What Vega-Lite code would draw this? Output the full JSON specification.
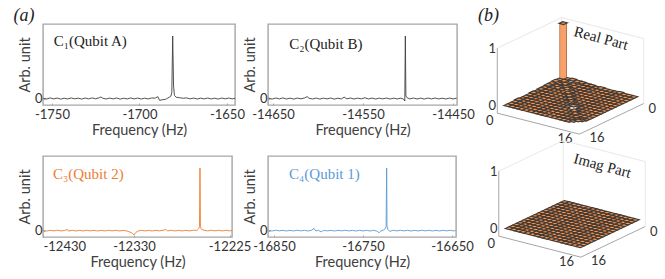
{"$schema":"https://vega.github.io/schema/vega-lite/v6.json","background":"white","padding":{"left":12,"top":6,"right":0,"bottom":0},"config":{"view":{"stroke":"#a6a6a6","strokeWidth":1.4},"axis":{"grid":false,"domain":false,"labelFont":"Lato","labelFontSize":13,"labelColor":"#333333","titleFont":"Lato","titleFontSize":14.5,"titleFontWeight":"normal","titleColor":"#404040","tickColor":"#a6a6a6","tickSize":-2,"labelPadding":5,"labelAngle":0}},"columns":3,"align":"each","bounds":"flush","spacing":{"row":51,"column":33},
"datasets":{
"a":[{"f":-1755,"y":0.004},{"f":-1753,"y":-0.008},{"f":-1751,"y":0.01},{"f":-1749,"y":-0.006},{"f":-1747,"y":0.007},{"f":-1745,"y":-0.01},{"f":-1743,"y":0.005},{"f":-1741,"y":-0.007},{"f":-1739,"y":0.009},{"f":-1737,"y":-0.005},{"f":-1735,"y":0.006},{"f":-1733,"y":-0.009},{"f":-1731,"y":0.008},{"f":-1729,"y":-0.006},{"f":-1727,"y":0.01},{"f":-1725,"y":-0.005},{"f":-1723,"y":0.012},{"f":-1722,"y":0.025},{"f":-1721,"y":0.005},{"f":-1719,"y":-0.008},{"f":-1717,"y":0.007},{"f":-1715,"y":-0.006},{"f":-1713,"y":0.008},{"f":-1711,"y":-0.01},{"f":-1709,"y":0.005},{"f":-1707,"y":-0.007},{"f":-1705,"y":0.009},{"f":-1703,"y":-0.006},{"f":-1701,"y":0.007},{"f":-1699,"y":-0.008},{"f":-1697,"y":0.006},{"f":-1695,"y":-0.007},{"f":-1693,"y":0.009},{"f":-1691,"y":0.006},{"f":-1689.5,"y":0.03},{"f":-1688.5,"y":-0.03},{"f":-1687,"y":-0.02},{"f":-1685,"y":-0.012},{"f":-1684,"y":0.005},{"f":-1683,"y":0.02},{"f":-1682,"y":0.04},{"f":-1681.5,"y":0.1},{"f":-1681,"y":1},{"f":-1680.5,"y":0.2},{"f":-1680,"y":0.05},{"f":-1679,"y":0.02},{"f":-1677,"y":0.012},{"f":-1675,"y":0.004},{"f":-1673,"y":0.009},{"f":-1671,"y":-0.005},{"f":-1669,"y":0.007},{"f":-1667,"y":-0.008},{"f":-1665,"y":0.006},{"f":-1663,"y":-0.006},{"f":-1661,"y":0.008},{"f":-1659,"y":-0.007},{"f":-1657,"y":0.005},{"f":-1655,"y":-0.009},{"f":-1653,"y":0.007},{"f":-1651,"y":-0.005},{"f":-1649,"y":0.008},{"f":-1647,"y":-0.006},{"f":-1645.4,"y":0.004}],
"b":[{"f":-14655,"y":0.006},{"f":-14651,"y":-0.009},{"f":-14647,"y":0.008},{"f":-14643,"y":-0.006},{"f":-14639,"y":0.01},{"f":-14635,"y":-0.008},{"f":-14631,"y":0.006},{"f":-14627,"y":-0.01},{"f":-14623,"y":0.007},{"f":-14619,"y":-0.005},{"f":-14615,"y":0.009},{"f":-14612,"y":0.03},{"f":-14610,"y":0.004},{"f":-14606,"y":-0.008},{"f":-14602,"y":0.007},{"f":-14598,"y":-0.009},{"f":-14594,"y":0.006},{"f":-14590,"y":-0.006},{"f":-14586,"y":0.008},{"f":-14582,"y":-0.01},{"f":-14578,"y":0.005},{"f":-14574,"y":-0.007},{"f":-14571,"y":0.022},{"f":-14568,"y":-0.005},{"f":-14564,"y":0.008},{"f":-14560,"y":-0.008},{"f":-14556,"y":0.006},{"f":-14552,"y":-0.006},{"f":-14548,"y":0.012},{"f":-14544,"y":-0.007},{"f":-14540,"y":0.007},{"f":-14536,"y":-0.009},{"f":-14532,"y":0.006},{"f":-14528,"y":-0.006},{"f":-14524,"y":0.008},{"f":-14520,"y":-0.008},{"f":-14516,"y":0.005},{"f":-14512,"y":-0.007},{"f":-14508,"y":0.006},{"f":-14505,"y":-0.01},{"f":-14503.6,"y":-0.04},{"f":-14503,"y":1},{"f":-14502.4,"y":0.04},{"f":-14501,"y":0.012},{"f":-14498,"y":-0.006},{"f":-14494,"y":0.008},{"f":-14490,"y":-0.008},{"f":-14486,"y":0.006},{"f":-14482,"y":-0.009},{"f":-14478,"y":0.007},{"f":-14474,"y":-0.006},{"f":-14470,"y":0.008},{"f":-14466,"y":-0.007},{"f":-14462,"y":0.005},{"f":-14458,"y":-0.008},{"f":-14454,"y":0.007},{"f":-14450,"y":-0.006},{"f":-14446,"y":0.005}],
"c":[{"f":-12430,"y":0.003},{"f":-12426,"y":-0.006},{"f":-12422,"y":0.005},{"f":-12418,"y":-0.004},{"f":-12414,"y":0.006},{"f":-12410,"y":-0.005},{"f":-12406,"y":0.004},{"f":-12403,"y":0.018},{"f":-12402,"y":-0.008},{"f":-12398,"y":0.005},{"f":-12394,"y":-0.006},{"f":-12390,"y":0.004},{"f":-12386,"y":-0.005},{"f":-12382,"y":0.006},{"f":-12378,"y":-0.004},{"f":-12374,"y":0.005},{"f":-12370,"y":-0.006},{"f":-12366,"y":0.004},{"f":-12362,"y":-0.005},{"f":-12358,"y":0.006},{"f":-12354,"y":-0.004},{"f":-12350,"y":0.005},{"f":-12346,"y":-0.005},{"f":-12342,"y":0.004},{"f":-12338,"y":-0.006},{"f":-12335,"y":-0.02},{"f":-12332,"y":-0.04},{"f":-12330,"y":-0.07},{"f":-12328,"y":-0.03},{"f":-12326,"y":-0.01},{"f":-12322,"y":0.005},{"f":-12318,"y":-0.005},{"f":-12314,"y":0.004},{"f":-12310,"y":-0.006},{"f":-12306,"y":0.005},{"f":-12302,"y":-0.004},{"f":-12298,"y":0.006},{"f":-12295,"y":0.016},{"f":-12293,"y":-0.005},{"f":-12289,"y":0.005},{"f":-12285,"y":-0.006},{"f":-12281,"y":0.004},{"f":-12277,"y":-0.005},{"f":-12273,"y":0.005},{"f":-12269,"y":-0.004},{"f":-12265,"y":0.006},{"f":-12261,"y":0.003},{"f":-12259,"y":0.03},{"f":-12258,"y":0.06},{"f":-12257.5,"y":1},{"f":-12257,"y":0.06},{"f":-12256,"y":0.02},{"f":-12253,"y":0.006},{"f":-12249,"y":-0.005},{"f":-12245,"y":0.006},{"f":-12241,"y":-0.004},{"f":-12237,"y":0.005},{"f":-12233,"y":-0.005},{"f":-12229,"y":0.004},{"f":-12225,"y":-0.004},{"f":-12222.3,"y":0.003}],
"d":[{"f":-16856,"y":0.004},{"f":-16852,"y":-0.006},{"f":-16848,"y":0.006},{"f":-16844,"y":-0.004},{"f":-16840,"y":0.005},{"f":-16836,"y":-0.006},{"f":-16832,"y":0.004},{"f":-16828,"y":-0.005},{"f":-16824,"y":0.006},{"f":-16820,"y":-0.004},{"f":-16816,"y":0.005},{"f":-16812,"y":-0.006},{"f":-16808,"y":0.006},{"f":-16805,"y":0.035},{"f":-16803,"y":-0.005},{"f":-16800,"y":0.004},{"f":-16797,"y":-0.02},{"f":-16794,"y":0.005},{"f":-16790,"y":-0.005},{"f":-16786,"y":0.004},{"f":-16782,"y":-0.006},{"f":-16778,"y":0.005},{"f":-16774,"y":-0.004},{"f":-16770,"y":0.006},{"f":-16766,"y":-0.005},{"f":-16762,"y":0.004},{"f":-16758,"y":-0.006},{"f":-16754,"y":0.005},{"f":-16750,"y":-0.005},{"f":-16746,"y":0.004},{"f":-16742,"y":-0.006},{"f":-16738,"y":0.005},{"f":-16734,"y":-0.01},{"f":-16732,"y":-0.035},{"f":-16730,"y":-0.005},{"f":-16727,"y":0.01},{"f":-16725,"y":0.03},{"f":-16724,"y":0.06},{"f":-16723.4,"y":1},{"f":-16723,"y":0.07},{"f":-16722,"y":0.02},{"f":-16720,"y":-0.012},{"f":-16716,"y":0.005},{"f":-16712,"y":-0.005},{"f":-16708,"y":0.006},{"f":-16704,"y":-0.004},{"f":-16700,"y":0.005},{"f":-16696,"y":-0.006},{"f":-16692,"y":0.004},{"f":-16688,"y":-0.005},{"f":-16684,"y":0.006},{"f":-16680,"y":-0.004},{"f":-16676,"y":0.005},{"f":-16672,"y":-0.006},{"f":-16668,"y":0.004},{"f":-16664,"y":-0.005},{"f":-16660,"y":0.005},{"f":-16656,"y":-0.004},{"f":-16652,"y":0.005},{"f":-16648,"y":-0.005},{"f":-16646,"y":0.003}],
"frame":[{"k":"w","a1":-1,"b1":16.5,"z1":1,"a2":-1,"b2":-1,"z2":1},{"k":"w","a1":-1,"b1":-1,"z1":1,"a2":16.5,"b2":-1,"z2":1},{"k":"w","a1":-1,"b1":-1,"z1":-0.14,"a2":-1,"b2":-1,"z2":1},{"k":"w","a1":16.5,"b1":-1,"z1":-0.14,"a2":16.5,"b2":-1,"z2":1},{"k":"f","a1":-1,"b1":16.5,"z1":-0.14,"a2":-1,"b2":16.5,"z2":1},{"k":"f","a1":-1,"b1":16.5,"z1":-0.14,"a2":16.5,"b2":16.5,"z2":-0.14},{"k":"f","a1":16.5,"b1":16.5,"z1":-0.14,"a2":16.5,"b2":-1,"z2":-0.14}],
"labels3d":[{"t":"1","a":-1.6,"b":17.1,"z":1},{"t":"0","a":-1.6,"b":17.1,"z":0},{"t":"0","a":2.6,"b":23.1,"z":0},{"t":"16","a":18.25,"b":22.6,"z":0},{"t":"0","a":21.6,"b":3.2,"z":0},{"t":"16","a":22.4,"b":19.2,"z":0}],
"cells":[
{"a":0,"b":0,"re":0.98,"im":0},{"a":0,"b":1,"re":0.02,"im":0},{"a":0,"b":2,"re":0.03,"im":0},{"a":0,"b":3,"re":0.02,"im":0},{"a":0,"b":4,"re":0.02,"im":0},{"a":0,"b":5,"re":0.01,"im":0},{"a":0,"b":6,"re":0.01,"im":0},{"a":0,"b":7,"re":0,"im":0},{"a":0,"b":8,"re":0.01,"im":0},{"a":0,"b":9,"re":0,"im":0},{"a":0,"b":10,"re":0,"im":0},{"a":0,"b":11,"re":0,"im":0},{"a":0,"b":12,"re":0.01,"im":0},{"a":0,"b":13,"re":0,"im":0},{"a":0,"b":14,"re":0,"im":0},{"a":0,"b":15,"re":0,"im":0},
{"a":1,"b":0,"re":0.02,"im":0},{"a":1,"b":1,"re":0.02,"im":0},{"a":1,"b":2,"re":0,"im":0},{"a":1,"b":3,"re":0,"im":0},{"a":1,"b":4,"re":0,"im":0},{"a":1,"b":5,"re":0,"im":0},{"a":1,"b":6,"re":0,"im":0},{"a":1,"b":7,"re":0,"im":0},{"a":1,"b":8,"re":0,"im":0},{"a":1,"b":9,"re":0,"im":0},{"a":1,"b":10,"re":0,"im":0},{"a":1,"b":11,"re":0,"im":0},{"a":1,"b":12,"re":0,"im":0},{"a":1,"b":13,"re":0,"im":0},{"a":1,"b":14,"re":0,"im":0},{"a":1,"b":15,"re":0,"im":0},
{"a":2,"b":0,"re":0.03,"im":0},{"a":2,"b":1,"re":0,"im":0},{"a":2,"b":2,"re":0.02,"im":0},{"a":2,"b":3,"re":0,"im":0},{"a":2,"b":4,"re":0.01,"im":0},{"a":2,"b":5,"re":0,"im":0},{"a":2,"b":6,"re":0,"im":0},{"a":2,"b":7,"re":0,"im":0},{"a":2,"b":8,"re":0,"im":0},{"a":2,"b":9,"re":0,"im":0},{"a":2,"b":10,"re":0,"im":0},{"a":2,"b":11,"re":0,"im":0},{"a":2,"b":12,"re":0,"im":0},{"a":2,"b":13,"re":0,"im":0},{"a":2,"b":14,"re":0,"im":0},{"a":2,"b":15,"re":0,"im":0},
{"a":3,"b":0,"re":0.02,"im":0},{"a":3,"b":1,"re":0,"im":0},{"a":3,"b":2,"re":0,"im":0},{"a":3,"b":3,"re":0.02,"im":0},{"a":3,"b":4,"re":0,"im":0},{"a":3,"b":5,"re":0,"im":0},{"a":3,"b":6,"re":0,"im":0},{"a":3,"b":7,"re":0,"im":0},{"a":3,"b":8,"re":0,"im":0},{"a":3,"b":9,"re":0,"im":0},{"a":3,"b":10,"re":0,"im":0},{"a":3,"b":11,"re":0,"im":0},{"a":3,"b":12,"re":0,"im":0},{"a":3,"b":13,"re":0,"im":0},{"a":3,"b":14,"re":0,"im":0},{"a":3,"b":15,"re":0,"im":0},
{"a":4,"b":0,"re":0.02,"im":0},{"a":4,"b":1,"re":0,"im":0},{"a":4,"b":2,"re":0.01,"im":0},{"a":4,"b":3,"re":0,"im":0},{"a":4,"b":4,"re":0.04,"im":0},{"a":4,"b":5,"re":0.01,"im":0},{"a":4,"b":6,"re":0,"im":0},{"a":4,"b":7,"re":0,"im":0},{"a":4,"b":8,"re":0,"im":0},{"a":4,"b":9,"re":0,"im":0},{"a":4,"b":10,"re":0,"im":0},{"a":4,"b":11,"re":0,"im":0},{"a":4,"b":12,"re":0,"im":0},{"a":4,"b":13,"re":0,"im":0},{"a":4,"b":14,"re":0,"im":0},{"a":4,"b":15,"re":0,"im":0},
{"a":5,"b":0,"re":0.01,"im":0},{"a":5,"b":1,"re":0,"im":0},{"a":5,"b":2,"re":0,"im":0},{"a":5,"b":3,"re":0,"im":0},{"a":5,"b":4,"re":0.01,"im":0},{"a":5,"b":5,"re":0.02,"im":0},{"a":5,"b":6,"re":0,"im":0},{"a":5,"b":7,"re":0,"im":0},{"a":5,"b":8,"re":0,"im":0},{"a":5,"b":9,"re":0,"im":0},{"a":5,"b":10,"re":0,"im":0},{"a":5,"b":11,"re":0,"im":0},{"a":5,"b":12,"re":0,"im":0},{"a":5,"b":13,"re":0,"im":0},{"a":5,"b":14,"re":0,"im":0},{"a":5,"b":15,"re":0,"im":0},
{"a":6,"b":0,"re":0.01,"im":0},{"a":6,"b":1,"re":0,"im":0},{"a":6,"b":2,"re":0,"im":0},{"a":6,"b":3,"re":0,"im":0},{"a":6,"b":4,"re":0,"im":0},{"a":6,"b":5,"re":0,"im":0},{"a":6,"b":6,"re":0.02,"im":0},{"a":6,"b":7,"re":0,"im":0},{"a":6,"b":8,"re":0,"im":0},{"a":6,"b":9,"re":0,"im":0},{"a":6,"b":10,"re":0,"im":0},{"a":6,"b":11,"re":0,"im":0},{"a":6,"b":12,"re":0,"im":0},{"a":6,"b":13,"re":0,"im":0},{"a":6,"b":14,"re":0,"im":0},{"a":6,"b":15,"re":0,"im":0},
{"a":7,"b":0,"re":0,"im":0},{"a":7,"b":1,"re":0,"im":0},{"a":7,"b":2,"re":0,"im":0},{"a":7,"b":3,"re":0,"im":0},{"a":7,"b":4,"re":0,"im":0},{"a":7,"b":5,"re":0,"im":0},{"a":7,"b":6,"re":0,"im":0},{"a":7,"b":7,"re":0.02,"im":0},{"a":7,"b":8,"re":0,"im":0},{"a":7,"b":9,"re":0,"im":0},{"a":7,"b":10,"re":0,"im":0},{"a":7,"b":11,"re":0,"im":0},{"a":7,"b":12,"re":0,"im":0},{"a":7,"b":13,"re":0,"im":0},{"a":7,"b":14,"re":0,"im":0},{"a":7,"b":15,"re":0,"im":0},
{"a":8,"b":0,"re":0.01,"im":0},{"a":8,"b":1,"re":0,"im":0},{"a":8,"b":2,"re":0,"im":0},{"a":8,"b":3,"re":0,"im":0},{"a":8,"b":4,"re":0,"im":0},{"a":8,"b":5,"re":0,"im":0},{"a":8,"b":6,"re":0,"im":0},{"a":8,"b":7,"re":0,"im":0},{"a":8,"b":8,"re":0.03,"im":0},{"a":8,"b":9,"re":0,"im":0},{"a":8,"b":10,"re":0,"im":0},{"a":8,"b":11,"re":0,"im":0},{"a":8,"b":12,"re":0,"im":0},{"a":8,"b":13,"re":0,"im":0},{"a":8,"b":14,"re":0,"im":0},{"a":8,"b":15,"re":0,"im":0},
{"a":9,"b":0,"re":0,"im":0},{"a":9,"b":1,"re":0,"im":0},{"a":9,"b":2,"re":0,"im":0},{"a":9,"b":3,"re":0,"im":0},{"a":9,"b":4,"re":0,"im":0},{"a":9,"b":5,"re":0,"im":0},{"a":9,"b":6,"re":0,"im":0},{"a":9,"b":7,"re":0,"im":0},{"a":9,"b":8,"re":0,"im":0},{"a":9,"b":9,"re":0.02,"im":0},{"a":9,"b":10,"re":0.02,"im":0},{"a":9,"b":11,"re":0,"im":0},{"a":9,"b":12,"re":0,"im":0},{"a":9,"b":13,"re":0,"im":0},{"a":9,"b":14,"re":0,"im":0},{"a":9,"b":15,"re":0,"im":0},
{"a":10,"b":0,"re":0,"im":0},{"a":10,"b":1,"re":0,"im":0},{"a":10,"b":2,"re":0,"im":0},{"a":10,"b":3,"re":0,"im":0},{"a":10,"b":4,"re":0,"im":0},{"a":10,"b":5,"re":0,"im":0},{"a":10,"b":6,"re":0,"im":0},{"a":10,"b":7,"re":0,"im":0},{"a":10,"b":8,"re":0,"im":0},{"a":10,"b":9,"re":0.02,"im":0},{"a":10,"b":10,"re":0.05,"im":0},{"a":10,"b":11,"re":0,"im":0},{"a":10,"b":12,"re":0,"im":0},{"a":10,"b":13,"re":0,"im":0},{"a":10,"b":14,"re":0,"im":0},{"a":10,"b":15,"re":0,"im":0},
{"a":11,"b":0,"re":0,"im":0},{"a":11,"b":1,"re":0,"im":0},{"a":11,"b":2,"re":0,"im":0},{"a":11,"b":3,"re":0,"im":0},{"a":11,"b":4,"re":0,"im":0},{"a":11,"b":5,"re":0,"im":0},{"a":11,"b":6,"re":0,"im":0},{"a":11,"b":7,"re":0,"im":0},{"a":11,"b":8,"re":0,"im":0},{"a":11,"b":9,"re":0,"im":0},{"a":11,"b":10,"re":0,"im":0},{"a":11,"b":11,"re":0.02,"im":0},{"a":11,"b":12,"re":0,"im":0},{"a":11,"b":13,"re":0,"im":0},{"a":11,"b":14,"re":0,"im":0},{"a":11,"b":15,"re":0,"im":0},
{"a":12,"b":0,"re":0.01,"im":0},{"a":12,"b":1,"re":0,"im":0},{"a":12,"b":2,"re":0,"im":0},{"a":12,"b":3,"re":0,"im":0},{"a":12,"b":4,"re":0,"im":0},{"a":12,"b":5,"re":0,"im":0},{"a":12,"b":6,"re":0,"im":0},{"a":12,"b":7,"re":0,"im":0},{"a":12,"b":8,"re":0,"im":0},{"a":12,"b":9,"re":0,"im":0},{"a":12,"b":10,"re":0,"im":0},{"a":12,"b":11,"re":0,"im":0},{"a":12,"b":12,"re":0.02,"im":0},{"a":12,"b":13,"re":0,"im":0},{"a":12,"b":14,"re":0,"im":0},{"a":12,"b":15,"re":0,"im":0},
{"a":13,"b":0,"re":0,"im":0},{"a":13,"b":1,"re":0,"im":0},{"a":13,"b":2,"re":0,"im":0},{"a":13,"b":3,"re":0,"im":0},{"a":13,"b":4,"re":0,"im":0},{"a":13,"b":5,"re":0,"im":0},{"a":13,"b":6,"re":0,"im":0},{"a":13,"b":7,"re":0,"im":0},{"a":13,"b":8,"re":0,"im":0},{"a":13,"b":9,"re":0,"im":0},{"a":13,"b":10,"re":0,"im":0},{"a":13,"b":11,"re":0,"im":0},{"a":13,"b":12,"re":0,"im":0},{"a":13,"b":13,"re":0.01,"im":0},{"a":13,"b":14,"re":0,"im":0},{"a":13,"b":15,"re":0,"im":0},
{"a":14,"b":0,"re":0,"im":0},{"a":14,"b":1,"re":0,"im":0},{"a":14,"b":2,"re":0,"im":0},{"a":14,"b":3,"re":0,"im":0},{"a":14,"b":4,"re":0,"im":0},{"a":14,"b":5,"re":0,"im":0},{"a":14,"b":6,"re":0,"im":0},{"a":14,"b":7,"re":0,"im":0},{"a":14,"b":8,"re":0,"im":0},{"a":14,"b":9,"re":0,"im":0},{"a":14,"b":10,"re":0,"im":0},{"a":14,"b":11,"re":0,"im":0},{"a":14,"b":12,"re":0,"im":0},{"a":14,"b":13,"re":0,"im":0},{"a":14,"b":14,"re":0.02,"im":0},{"a":14,"b":15,"re":0.02,"im":0},
{"a":15,"b":0,"re":0,"im":0},{"a":15,"b":1,"re":0,"im":0},{"a":15,"b":2,"re":0,"im":0},{"a":15,"b":3,"re":0,"im":0},{"a":15,"b":4,"re":0,"im":0},{"a":15,"b":5,"re":0,"im":0},{"a":15,"b":6,"re":0,"im":0},{"a":15,"b":7,"re":0,"im":0},{"a":15,"b":8,"re":0,"im":0},{"a":15,"b":9,"re":0,"im":0},{"a":15,"b":10,"re":0,"im":0},{"a":15,"b":11,"re":0,"im":0},{"a":15,"b":12,"re":0,"im":0},{"a":15,"b":13,"re":0,"im":0},{"a":15,"b":14,"re":0.02,"im":0},{"a":15,"b":15,"re":0.05,"im":0}
]},
"concat":[
{"width":192,"height":81,"layer":[
{"data":{"name":"a"},"mark":{"type":"line","stroke":"#404040","strokeWidth":0.9,"clip":true},"encoding":{"x":{"field":"f","type":"quantitative","scale":{"domain":[-1755.1,-1645.4],"nice":false,"zero":false},"axis":{"values":[-1750,-1700,-1650],"labelExpr":"toString(datum.value)","title":"Frequency (Hz)","titlePadding":2}},"y":{"field":"y","type":"quantitative","scale":{"domain":[-0.104,1.192],"nice":false,"zero":false},"axis":{"values":[0],"format":"d","labelPadding":3,"title":"Arb. unit","titlePadding":2}}}},
{"mark":{"type":"text","align":"left","font":"Liberation Serif","fontSize":15,"color":"#222222"},"data":{"values":[{"t":"C₁(Qubit A)","f":-1749,"y":0.92}]},"encoding":{"x":{"field":"f","type":"quantitative"},"y":{"field":"y","type":"quantitative"},"text":{"field":"t"}}},
{"mark":{"type":"text","align":"left","baseline":"alphabetic","font":"Liberation Serif","fontStyle":"italic","fontSize":18,"color":"#222222"},"data":{"values":[{"t":"(a)","f":-1772,"y":1.24}]},"encoding":{"x":{"field":"f","type":"quantitative"},"y":{"field":"y","type":"quantitative"},"text":{"field":"t"}}}]},
{"width":189,"height":81,"layer":[
{"data":{"name":"b"},"mark":{"type":"line","stroke":"#404040","strokeWidth":0.9,"clip":true},"encoding":{"x":{"field":"f","type":"quantitative","scale":{"domain":[-14655.6,-14445.6],"nice":false,"zero":false},"axis":{"values":[-14650,-14550,-14450],"labelExpr":"toString(datum.value)","title":"Frequency (Hz)","titlePadding":2}},"y":{"field":"y","type":"quantitative","scale":{"domain":[-0.104,1.192],"nice":false,"zero":false},"axis":{"values":[0],"format":"d","labelPadding":3,"title":"Arb. unit","titlePadding":2}}}},
{"mark":{"type":"text","align":"left","font":"Liberation Serif","fontSize":15,"color":"#222222"},"data":{"values":[{"t":"C₂(Qubit B)","f":-14632,"y":0.88}]},"encoding":{"x":{"field":"f","type":"quantitative"},"y":{"field":"y","type":"quantitative"},"text":{"field":"t"}}}]},
{"width":176,"height":81,"view":{"stroke":null},
"layer":[
{"data":{"name":"frame"},"transform":[{"calculate":"72.7+4.69*datum.a1-3.68*datum.b1","as":"x1"},{"calculate":"53.5+1.2*datum.a1+1.75*datum.b1-57*datum.z1","as":"y1"},{"calculate":"72.7+4.69*datum.a2-3.68*datum.b2","as":"x2"},{"calculate":"53.5+1.2*datum.a2+1.75*datum.b2-57*datum.z2","as":"y2"}],"mark":{"type":"rule","strokeWidth":1},"encoding":{"x":{"field":"x1","type":"quantitative","scale":{"domain":[0,176]},"axis":null},"y":{"field":"y1","type":"quantitative","scale":{"domain":[81,0]},"axis":null},"x2":{"field":"x2"},"y2":{"field":"y2"},"color":{"field":"k","type":"nominal","scale":{"domain":["w","f"],"range":["#e8e8e8","#a6a6a6"]},"legend":null}}},
{"data":{"name":"cells"},"transform":[{"filter":"datum.re>0.2"},{"calculate":"72.7+4.69*(datum.a+0.5)-3.68*(datum.b+0.5)","as":"x1"},{"calculate":"53.5+1.2*(datum.a+0.5)+1.75*(datum.b+0.5)","as":"y0"},{"calculate":"datum.y0-57*datum.re","as":"y1"}],"mark":{"type":"rule","strokeWidth":7.6,"stroke":"#a85f35"},"encoding":{"x":{"field":"x1","type":"quantitative","scale":{"domain":[0,176]}},"y":{"field":"y0","type":"quantitative","scale":{"domain":[81,0]}},"y2":{"field":"y1"}}},
{"data":{"name":"cells"},"transform":[{"filter":"datum.re>0.2"},{"calculate":"72.7+4.69*(datum.a+0.5)-3.68*(datum.b+0.5)","as":"x1"},{"calculate":"53.5+1.2*(datum.a+0.5)+1.75*(datum.b+0.5)","as":"y0"},{"calculate":"datum.y0-57*datum.re","as":"y1"}],"mark":{"type":"rule","strokeWidth":6.2,"stroke":"#f6a06a"},"encoding":{"x":{"field":"x1","type":"quantitative","scale":{"domain":[0,176]}},"y":{"field":"y0","type":"quantitative","scale":{"domain":[81,0]}},"y2":{"field":"y1"}}},
{"data":{"name":"cells"},"transform":[{"calculate":"72.7+4.69*(datum.a+0.5)-3.68*(datum.b+0.5)","as":"x1"},{"calculate":"53.5+1.2*(datum.a+0.5)+1.75*(datum.b+0.5)-57*datum.re","as":"y1"}],"mark":{"type":"point","filled":true,"opacity":1,"shape":"M0.10,0.295L0.84,-0.055L-0.10,-0.295L-0.84,0.055Z","size":100,"fill":"#ff9448","stroke":"#3d3a38","strokeWidth":1.1},"encoding":{"x":{"field":"x1","type":"quantitative","scale":{"domain":[0,176]}},"y":{"field":"y1","type":"quantitative","scale":{"domain":[81,0]}}}},
{"data":{"name":"labels3d"},"transform":[{"calculate":"72.7+4.69*datum.a-3.68*datum.b","as":"x1"},{"calculate":"53.5+1.2*datum.a+1.75*datum.b-57*datum.z","as":"y1"}],"mark":{"type":"text","font":"Lato","fontSize":13,"color":"#333333"},"encoding":{"x":{"field":"x1","type":"quantitative","scale":{"domain":[0,176]}},"y":{"field":"y1","type":"quantitative","scale":{"domain":[81,0]}},"text":{"field":"t"}}},
{"data":{"values":[{"t":"Real Part","a":10.4,"b":2.85,"z":1}]},"transform":[{"calculate":"72.7+4.69*datum.a-3.68*datum.b","as":"x1"},{"calculate":"53.5+1.2*datum.a+1.75*datum.b-57*datum.z","as":"y1"}],"mark":{"type":"text","font":"Liberation Serif","fontSize":15,"angle":15,"color":"#222222"},"encoding":{"x":{"field":"x1","type":"quantitative","scale":{"domain":[0,176]}},"y":{"field":"y1","type":"quantitative","scale":{"domain":[81,0]}},"text":{"field":"t"}}},
{"data":{"values":[{"t":"(b)","a":-11.6,"b":8.2,"z":1}]},"transform":[{"calculate":"72.7+4.69*datum.a-3.68*datum.b","as":"x1"},{"calculate":"53.5+1.2*datum.a+1.75*datum.b-57*datum.z","as":"y1"}],"mark":{"type":"text","align":"left","baseline":"alphabetic","font":"Liberation Serif","fontStyle":"italic","fontSize":18,"color":"#222222"},"encoding":{"x":{"field":"x1","type":"quantitative","scale":{"domain":[0,176]}},"y":{"field":"y1","type":"quantitative","scale":{"domain":[81,0]}},"text":{"field":"t"}}}
]},
{"width":189,"height":81,"layer":[
{"data":{"name":"c"},"mark":{"type":"line","stroke":"#ED7D31","strokeWidth":0.9,"clip":true},"encoding":{"x":{"field":"f","type":"quantitative","scale":{"domain":[-12430,-12222.3],"nice":false,"zero":false},"axis":{"values":[-12430,-12330,-12225],"labelExpr":"toString(datum.value)","title":"Frequency (Hz)","titlePadding":2}},"y":{"field":"y","type":"quantitative","scale":{"domain":[-0.102,1.192],"nice":false,"zero":false},"axis":{"values":[0],"format":"d","labelPadding":3,"title":"Arb. unit","titlePadding":2}}}},
{"mark":{"type":"text","align":"left","font":"Liberation Serif","fontSize":15,"color":"#ED7D31"},"data":{"values":[{"t":"C₃(Qubit 2)","f":-12419,"y":0.904}]},"encoding":{"x":{"field":"f","type":"quantitative"},"y":{"field":"y","type":"quantitative"},"text":{"field":"t"}}}]},
{"width":188,"height":81,"layer":[
{"data":{"name":"d"},"mark":{"type":"line","stroke":"#5B9BD5","strokeWidth":0.9,"clip":true},"encoding":{"x":{"field":"f","type":"quantitative","scale":{"domain":[-16856.7,-16645.5],"nice":false,"zero":false},"axis":{"values":[-16850,-16750,-16650],"labelExpr":"toString(datum.value)","title":"Frequency (Hz)","titlePadding":2}},"y":{"field":"y","type":"quantitative","scale":{"domain":[-0.102,1.192],"nice":false,"zero":false},"axis":{"values":[0],"format":"d","labelPadding":3,"title":"Arb. unit","titlePadding":2}}}},
{"mark":{"type":"text","align":"left","font":"Liberation Serif","fontSize":15,"color":"#5B9BD5"},"data":{"values":[{"t":"C₄(Qubit 1)","f":-16833,"y":0.9}]},"encoding":{"x":{"field":"f","type":"quantitative"},"y":{"field":"y","type":"quantitative"},"text":{"field":"t"}}}]},
{"width":176,"height":81,"view":{"stroke":null},"layer":[
{"data":{"name":"frame"},"transform":[{"calculate":"74.2+4.69*datum.a1-3.68*datum.b1","as":"x1"},{"calculate":"44.5+1.2*datum.a1+1.75*datum.b1-57*datum.z1","as":"y1"},{"calculate":"74.2+4.69*datum.a2-3.68*datum.b2","as":"x2"},{"calculate":"44.5+1.2*datum.a2+1.75*datum.b2-57*datum.z2","as":"y2"}],"mark":{"type":"rule","strokeWidth":1},"encoding":{"x":{"field":"x1","type":"quantitative","scale":{"domain":[0,176]},"axis":null},"y":{"field":"y1","type":"quantitative","scale":{"domain":[81,0]},"axis":null},"x2":{"field":"x2"},"y2":{"field":"y2"},"color":{"field":"k","type":"nominal","scale":{"domain":["w","f"],"range":["#e8e8e8","#a6a6a6"]},"legend":null}}},
{"data":{"name":"cells"},"transform":[{"calculate":"74.2+4.69*(datum.a+0.5)-3.68*(datum.b+0.5)","as":"x1"},{"calculate":"44.5+1.2*(datum.a+0.5)+1.75*(datum.b+0.5)-57*datum.im","as":"y1"}],"mark":{"type":"point","filled":true,"opacity":1,"shape":"M0.10,0.295L0.84,-0.055L-0.10,-0.295L-0.84,0.055Z","size":100,"fill":"#ff9448","stroke":"#3d3a38","strokeWidth":1.1},"encoding":{"x":{"field":"x1","type":"quantitative","scale":{"domain":[0,176]}},"y":{"field":"y1","type":"quantitative","scale":{"domain":[81,0]}}}},
{"data":{"name":"labels3d"},"transform":[{"calculate":"74.2+4.69*datum.a-3.68*datum.b","as":"x1"},{"calculate":"44.5+1.2*datum.a+1.75*datum.b-57*datum.z","as":"y1"}],"mark":{"type":"text","font":"Lato","fontSize":13,"color":"#333333"},"encoding":{"x":{"field":"x1","type":"quantitative","scale":{"domain":[0,176]}},"y":{"field":"y1","type":"quantitative","scale":{"domain":[81,0]}},"text":{"field":"t"}}},
{"data":{"values":[{"t":"Imag Part","a":10.4,"b":2.85,"z":0.92}]},"transform":[{"calculate":"74.2+4.69*datum.a-3.68*datum.b","as":"x1"},{"calculate":"44.5+1.2*datum.a+1.75*datum.b-57*datum.z","as":"y1"}],"mark":{"type":"text","font":"Liberation Serif","fontSize":15,"angle":15,"color":"#222222"},"encoding":{"x":{"field":"x1","type":"quantitative","scale":{"domain":[0,176]}},"y":{"field":"y1","type":"quantitative","scale":{"domain":[81,0]}},"text":{"field":"t"}}}
]}
]}
